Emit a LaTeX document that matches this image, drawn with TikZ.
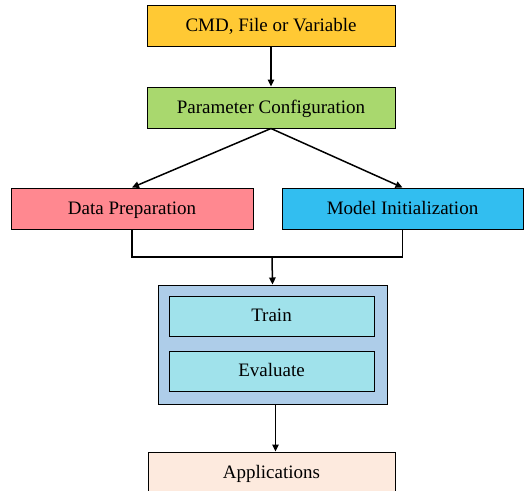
\documentclass[tikz,border=0pt]{standalone}
\usepackage{fontspec}
\setmainfont{Liberation Serif}
\newfontfamily\boxfont{Liberation Serif}
\usepackage{tikz}
\usetikzlibrary{arrows.meta}
\definecolor{cmdyellow}{RGB}{255,201,52}
\definecolor{cfggreen}{RGB}{169,216,110}
\definecolor{datapink}{RGB}{255,136,144}
\definecolor{modelblue}{RGB}{50,190,240}
\definecolor{loopblue}{RGB}{174,205,233}
\definecolor{stepcyan}{RGB}{160,226,235}
\definecolor{appspeach}{RGB}{253,234,222}
\tikzset{link/.style={draw, line width=1.5pt, ->},
         box/.style={draw, line width=1pt, minimum height=41pt, inner sep=0pt,
                     text height=11.5pt, text depth=0pt,
                     font=\boxfont\fontsize{19}{22}\selectfont},
         >={Triangle[length=7pt,width=6.5pt]}}

\begin{document}
\begin{tikzpicture}[x=1pt, y=-1pt]       % training workflow
    \path[use as bounding box] (0, 0) rectangle (529, 490);

    \node[box,fill=cmdyellow,minimum width=248pt] at (271, 25.5) (cmd) {CMD, File or Variable};
    \node[box,fill=cfggreen,minimum width=248pt] at (271, 107.5) (cfg) {Parameter Configuration};
    \node[box,fill=datapink,minimum width=242pt] at (132, 208.5) (data) {Data Preparation};
    \node[box,fill=modelblue,minimum width=241pt] at (402.5, 208.5) (model) {Model Initialization};

    \node[box,fill=loopblue,minimum width=229pt,minimum height=119pt] at (272.5, 344.5) (loop) {};
    \node[box,fill=stepcyan,minimum width=205pt,minimum height=40pt] at (271.5, 316) (train) {Train};
    \node[box,fill=stepcyan,minimum width=205pt,minimum height=40pt] at (271.5, 371) (eval) {Evaluate};

    \node[box,fill=appspeach,minimum width=247pt] at (271.5, 472.5) (apps) {Applications};

    \draw[link] (cmd) -- (cfg);
    \draw[link] (cfg.south) -- (data.north);
    \draw[link] (cfg.south) -- (model.north);

    \coordinate (join) at (272, 257);
    \draw[line width=1.2pt] (data.south) |- (join) -| (model.south);
    \draw[link] (join) -- (loop.north);

    \draw[link] ([xshift=3pt]loop.south) -- ([xshift=3pt]loop.south |- apps.north);
\end{tikzpicture}
\end{document}
